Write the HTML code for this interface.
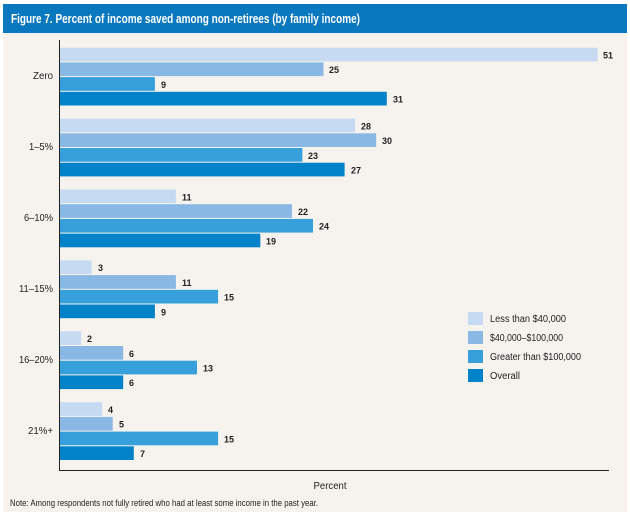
<!DOCTYPE html>
<html><head><meta charset="utf-8"><style>
body{margin:0;background:#fff;}
svg{display:block;}
text{font-family:"Liberation Sans Narrow","Liberation Sans",sans-serif;}
</style></head><body>
<svg width="630" height="515" viewBox="0 0 630 515" xmlns="http://www.w3.org/2000/svg">
<rect x="3" y="4" width="624" height="508" fill="#f6f3ee"/>
<rect x="3" y="4" width="624" height="29" fill="#0a78be"/>
<text x="11" y="23" font-size="13" font-weight="bold" fill="#fff" textLength="349" lengthAdjust="spacingAndGlyphs">Figure 7. Percent of income saved among non-retirees (by family income)</text>
<line x1="59.5" y1="40" x2="59.5" y2="470.5" stroke="#222" stroke-width="1"/>
<line x1="59" y1="470.5" x2="609" y2="470.5" stroke="#222" stroke-width="1"/>
<text x="330" y="489" font-size="10.5" text-anchor="middle" fill="#222" textLength="33" lengthAdjust="spacingAndGlyphs">Percent</text>
<text x="10" y="506" font-size="9" fill="#222" textLength="308" lengthAdjust="spacingAndGlyphs">Note: Among respondents not fully retired who had at least some income in the past year.</text>
<g font-size="10" fill="#222">
<rect x="468" y="312" width="15" height="13" fill="#c6dbf1"/><text x="490" y="322" textLength="76" lengthAdjust="spacingAndGlyphs">Less than $40,000</text>
<rect x="468" y="331" width="15" height="13" fill="#8ab8e4"/><text x="490" y="341" textLength="73" lengthAdjust="spacingAndGlyphs">$40,000–$100,000</text>
<rect x="468" y="350" width="15" height="13" fill="#379fd9"/><text x="490" y="360" textLength="91" lengthAdjust="spacingAndGlyphs">Greater than $100,000</text>
<rect x="468" y="369" width="15" height="13" fill="#0282c8"/><text x="490" y="379" textLength="30" lengthAdjust="spacingAndGlyphs">Overall</text>
</g>
<g font-size="10" fill="#222" text-anchor="end">
<text x="53" y="79" textLength="20" lengthAdjust="spacingAndGlyphs">Zero</text>
<text x="53" y="150" textLength="24" lengthAdjust="spacingAndGlyphs">1–5%</text>
<text x="53" y="221" textLength="29" lengthAdjust="spacingAndGlyphs">6–10%</text>
<text x="53" y="292" textLength="34" lengthAdjust="spacingAndGlyphs">11–15%</text>
<text x="53" y="363" textLength="34" lengthAdjust="spacingAndGlyphs">16–20%</text>
<text x="53" y="434" textLength="25" lengthAdjust="spacingAndGlyphs">21%+</text>
</g>
<g font-size="9" font-weight="bold" fill="#222">
<rect x="60" y="47.7" width="537.6" height="13.7" fill="#c6dbf1"/><text x="603" y="58.5">51</text>
<rect x="60" y="62.4" width="263.5" height="13.7" fill="#8ab8e4"/><text x="329" y="73.2">25</text>
<rect x="60" y="77.1" width="94.9" height="13.7" fill="#379fd9"/><text x="161" y="87.9">9</text>
<rect x="60" y="91.8" width="326.8" height="13.7" fill="#0282c8"/><text x="393" y="102.6">31</text>

<rect x="60" y="118.6" width="295.1" height="13.7" fill="#c6dbf1"/><text x="361" y="129.4">28</text>
<rect x="60" y="133.3" width="316.2" height="13.7" fill="#8ab8e4"/><text x="382" y="144.1">30</text>
<rect x="60" y="148" width="242.4" height="13.7" fill="#379fd9"/><text x="308" y="158.8">23</text>
<rect x="60" y="162.7" width="284.6" height="13.7" fill="#0282c8"/><text x="351" y="173.5">27</text>

<rect x="60" y="189.5" width="115.9" height="13.7" fill="#c6dbf1"/><text x="182" y="200.3">11</text>
<rect x="60" y="204.2" width="231.9" height="13.7" fill="#8ab8e4"/><text x="298" y="215">22</text>
<rect x="60" y="218.9" width="253" height="13.7" fill="#379fd9"/><text x="319" y="229.7">24</text>
<rect x="60" y="233.6" width="200.3" height="13.7" fill="#0282c8"/><text x="266" y="244.4">19</text>

<rect x="60" y="260.4" width="31.6" height="13.7" fill="#c6dbf1"/><text x="98" y="271.2">3</text>
<rect x="60" y="275.1" width="115.9" height="13.7" fill="#8ab8e4"/><text x="182" y="285.9">11</text>
<rect x="60" y="289.8" width="158.1" height="13.7" fill="#379fd9"/><text x="224" y="300.6">15</text>
<rect x="60" y="304.5" width="94.9" height="13.7" fill="#0282c8"/><text x="161" y="315.3">9</text>

<rect x="60" y="331.3" width="21.1" height="13.7" fill="#c6dbf1"/><text x="87" y="342.1">2</text>
<rect x="60" y="346" width="63.2" height="13.7" fill="#8ab8e4"/><text x="129" y="356.8">6</text>
<rect x="60" y="360.7" width="137" height="13.7" fill="#379fd9"/><text x="203" y="371.5">13</text>
<rect x="60" y="375.4" width="63.2" height="13.7" fill="#0282c8"/><text x="129" y="386.2">6</text>

<rect x="60" y="402.2" width="42.2" height="13.7" fill="#c6dbf1"/><text x="108" y="413">4</text>
<rect x="60" y="416.9" width="52.7" height="13.7" fill="#8ab8e4"/><text x="119" y="427.7">5</text>
<rect x="60" y="431.6" width="158.1" height="13.7" fill="#379fd9"/><text x="224" y="442.4">15</text>
<rect x="60" y="446.3" width="73.8" height="13.7" fill="#0282c8"/><text x="140" y="457.1">7</text>
</g>
</svg>
</body></html>
